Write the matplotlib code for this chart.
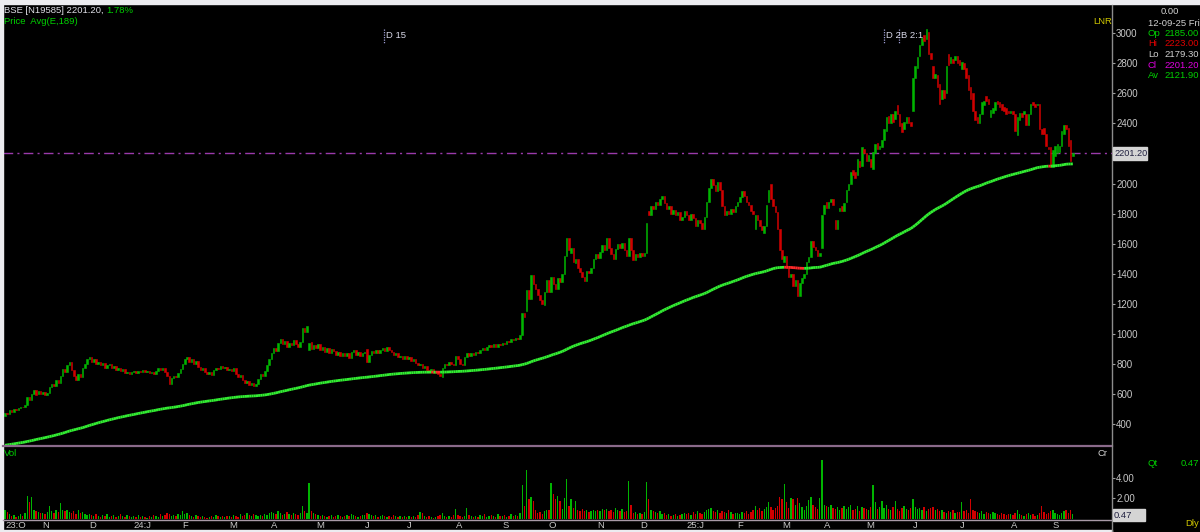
import matplotlib
matplotlib.use("Agg")
import matplotlib.pyplot as plt
import numpy as np
from matplotlib.collections import LineCollection
from matplotlib.lines import Line2D
from matplotlib.patches import Rectangle

# ---------------- data (daily candles, grouped by month) ----------------
month_labels = ["23:O", "N", "D", "24:J", "F", "M", "A", "M", "J", "J", "A", "S",
                "O", "N", "D", "25:J", "F", "M", "A", "M", "J", "J", "A", "S"]

opens = [
    [455, 475, 468, 490, 482, 500, 495, 506, 515, 510, 525, 580, 560, 600, 625, 600, 620],
    [598, 612, 590, 605, 645, 665, 650, 690, 675, 720, 765, 745, 790, 810, 760, 720, 690, 735, 710, 770, 800],
    [830, 848, 815, 830, 800, 812, 790, 805, 770, 790, 800, 775, 785, 760, 770, 750, 765, 740, 748, 735],
    [745, 752, 740, 755, 748, 760, 745, 752, 738, 745, 735, 755, 770, 760, 772, 745, 720, 668, 705, 720, 712, 740],
    [765, 800, 830, 845, 812, 835, 800, 820, 778, 760, 772, 748, 735, 745, 725, 760, 775, 765, 785, 770, 778],
    [760, 768, 750, 770, 735, 710, 725, 690, 670, 685, 660, 672, 650, 668, 700, 730, 720, 755, 790],
    [830, 870, 905, 885, 940, 965, 930, 950, 915, 940, 925, 960, 935, 910, 945, 1040, 1010, 890, 945, 900],
    [925, 905, 930, 895, 915, 880, 905, 875, 900, 885, 860, 880, 855, 875, 850, 870, 840, 880, 895, 860, 880, 850],
    [870, 900, 815, 860, 885, 870, 890, 875, 895, 905, 885, 910, 895, 880, 860, 870, 845, 855, 835],
    [850, 835, 845, 820, 830, 808, 790, 800, 775, 785, 760, 748, 765, 742, 755, 730, 715, 770, 800, 790, 815, 800],
    [790, 855, 830, 800, 790, 845, 870, 855, 875, 860, 880, 870, 895, 905, 890, 910, 925, 910, 930, 915, 935],
    [925, 940, 930, 955, 945, 965, 960, 975, 968, 990, 1140, 1150, 1290, 1230, 1390, 1330, 1300, 1260, 1225, 1195, 1275],
    [1360, 1280, 1380, 1330, 1300, 1370, 1345, 1400, 1520, 1640, 1540, 1570, 1470, 1500, 1440, 1410, 1380, 1350, 1420, 1405, 1440, 1500],
    [1530, 1505, 1545, 1590, 1560, 1640, 1570, 1530, 1500, 1565, 1600, 1570, 1605, 1560, 1520, 1640, 1560, 1490, 1530],
    [1510, 1535, 1520, 1540, 1820, 1790, 1850, 1830, 1880, 1860, 1900, 1920, 1870, 1830, 1850, 1800, 1825, 1790, 1810, 1760, 1780],
    [1820, 1790, 1760, 1800, 1770, 1720, 1760, 1740, 1700, 1780, 1880, 1970, 2030, 1990, 1950, 2010, 1960, 1850, 1790, 1820, 1800, 1830, 1810],
    [1850, 1880, 1910, 1950, 1920, 1880, 1860, 1820, 1700, 1790, 1760, 1720, 1670, 1720, 1880, 2000, 1900, 1850, 1810, 1700],
    [1560, 1480, 1520, 1440, 1380, 1400, 1320, 1360, 1250, 1340, 1370, 1400, 1480, 1510, 1620, 1580, 1560, 1520, 1570],
    [1800, 1880, 1840, 1880, 1900, 1760, 1700, 1820, 1850, 1820, 1880, 1960, 2000, 2090, 2080, 2060, 2150, 2120, 2230],
    [2200, 2150, 2160, 2100, 2200, 2270, 2230, 2240, 2290, 2350, 2450, 2400, 2460, 2430, 2520, 2460, 2400, 2360, 2400, 2440, 2410],
    [2480, 2700, 2770, 2850, 2920, 2990, 2960, 3010, 2870, 2780, 2700, 2720, 2660, 2560, 2620, 2600, 2860, 2800, 2830, 2820, 2850],
    [2820, 2760, 2800, 2770, 2720, 2640, 2600, 2480, 2440, 2400, 2460, 2520, 2580, 2560, 2440, 2470, 2490, 2550, 2540, 2530, 2510, 2500, 2480],
    [2470, 2480, 2460, 2320, 2420, 2470, 2460, 2460, 2390, 2460, 2540, 2530, 2520, 2530, 2360, 2370, 2330, 2240, 2240],
    [2110, 2180, 2200, 2210, 2250, 2330, 2390, 2370, 2290, 2185],
]

closes = [
    [475, 468, 490, 482, 500, 495, 506, 515, 510, 525, 580, 560, 600, 625, 595, 620, 598],
    [612, 590, 605, 645, 665, 650, 690, 675, 720, 765, 745, 790, 810, 760, 720, 690, 735, 710, 770, 800, 830],
    [848, 815, 830, 800, 812, 790, 805, 770, 790, 800, 775, 785, 760, 770, 750, 765, 740, 748, 735, 745],
    [752, 740, 755, 748, 760, 745, 752, 738, 745, 735, 755, 770, 760, 772, 745, 720, 668, 705, 720, 712, 740, 765],
    [800, 830, 845, 812, 835, 800, 820, 778, 760, 772, 748, 735, 745, 725, 760, 775, 765, 785, 770, 778, 760],
    [768, 750, 770, 735, 710, 725, 690, 670, 685, 660, 672, 650, 668, 700, 730, 720, 755, 790, 830],
    [870, 905, 885, 940, 965, 930, 950, 915, 940, 925, 960, 935, 910, 945, 1040, 1010, 1055, 940, 900, 925],
    [905, 930, 895, 915, 880, 905, 875, 900, 885, 860, 880, 855, 875, 850, 870, 840, 880, 895, 860, 880, 850, 870],
    [880, 810, 860, 885, 870, 890, 875, 895, 905, 885, 910, 895, 880, 860, 870, 845, 855, 835, 850],
    [835, 845, 820, 830, 808, 790, 800, 775, 785, 760, 748, 765, 742, 755, 730, 720, 770, 800, 790, 815, 800, 790],
    [855, 830, 800, 790, 845, 870, 855, 875, 860, 880, 870, 895, 905, 890, 910, 925, 910, 930, 915, 935, 925],
    [940, 930, 955, 945, 965, 960, 975, 968, 990, 1140, 1110, 1290, 1230, 1390, 1330, 1300, 1260, 1225, 1200, 1275, 1360],
    [1280, 1380, 1330, 1300, 1370, 1345, 1400, 1520, 1640, 1560, 1570, 1480, 1500, 1440, 1410, 1380, 1350, 1420, 1405, 1440, 1500, 1530],
    [1505, 1545, 1590, 1555, 1640, 1570, 1530, 1500, 1565, 1600, 1570, 1605, 1560, 1520, 1640, 1560, 1490, 1530, 1510],
    [1535, 1520, 1540, 1740, 1790, 1850, 1830, 1880, 1860, 1900, 1920, 1870, 1830, 1850, 1800, 1825, 1790, 1810, 1760, 1780, 1820],
    [1790, 1760, 1800, 1770, 1720, 1760, 1740, 1700, 1780, 1880, 1970, 2030, 1990, 1950, 2010, 1960, 1850, 1790, 1820, 1800, 1830, 1810, 1850],
    [1880, 1910, 1950, 1920, 1880, 1860, 1820, 1800, 1790, 1760, 1720, 1690, 1720, 1860, 1960, 1900, 1850, 1810, 1700, 1560],
    [1500, 1520, 1440, 1380, 1400, 1320, 1360, 1250, 1340, 1370, 1400, 1480, 1510, 1620, 1580, 1560, 1520, 1540, 1790],
    [1860, 1840, 1880, 1900, 1860, 1700, 1760, 1840, 1820, 1870, 1960, 2000, 2080, 2060, 2040, 2160, 2110, 2240, 2200],
    [2150, 2190, 2110, 2210, 2260, 2230, 2250, 2290, 2360, 2440, 2400, 2460, 2410, 2480, 2460, 2380, 2340, 2410, 2440, 2400, 2380],
    [2700, 2780, 2840, 2920, 2970, 2950, 3030, 2860, 2830, 2700, 2730, 2640, 2530, 2620, 2570, 2780, 2790, 2840, 2800, 2850, 2800],
    [2790, 2810, 2760, 2700, 2620, 2560, 2480, 2420, 2400, 2460, 2540, 2550, 2550, 2530, 2490, 2500, 2540, 2530, 2510, 2490, 2480, 2460, 2470],
    [2480, 2460, 2350, 2440, 2470, 2440, 2480, 2390, 2460, 2530, 2520, 2510, 2530, 2360, 2330, 2330, 2250, 2230, 2110],
    [2220, 2250, 2260, 2250, 2350, 2390, 2360, 2250, 2150, 2201.2],
]

volumes = [
    [0.9, 0.7, 0.5, 0.3, 0.4, 0.2, 0.3, 0.5, 0.3, 0.6, 2.2, 1.6, 2.1, 0.9, 0.8, 0.7, 0.6],
    [0.6, 0.5, 0.7, 1.3, 0.8, 0.6, 0.9, 0.7, 1.5, 0.9, 0.8, 0.9, 0.7, 0.6, 0.8, 0.5, 0.9, 0.6, 0.7, 0.5, 0.4],
    [0.5, 0.4, 0.3, 0.5, 0.3, 0.2, 0.4, 0.3, 0.5, 0.2, 0.3, 0.4, 0.2, 0.3, 0.5, 0.3, 0.2, 0.4, 0.3, 0.2],
    [0.3, 0.2, 0.4, 0.2, 0.3, 0.2, 0.1, 0.3, 0.2, 0.4, 0.3, 0.2, 0.5, 0.3, 0.4, 0.6, 0.5, 0.3, 0.4, 0.3, 0.5, 0.4],
    [0.8, 0.5, 0.6, 0.4, 0.3, 0.2, 0.4, 0.3, 0.2, 0.3, 0.2, 0.1, 0.2, 0.3, 0.2, 0.4, 0.3, 0.2, 0.3, 0.2, 0.3],
    [0.3, 0.2, 0.4, 0.3, 0.2, 0.5, 0.3, 0.4, 0.6, 0.4, 0.3, 0.5, 0.4, 0.3, 0.4, 0.3, 0.5, 0.4, 0.6],
    [0.7, 0.6, 0.5, 0.8, 0.6, 0.4, 0.5, 0.7, 0.5, 0.4, 0.6, 0.5, 0.4, 0.6, 1.3, 0.8, 0.6, 3.5, 0.8, 0.6],
    [0.5, 0.4, 0.3, 0.4, 0.3, 0.2, 0.3, 0.4, 0.2, 0.3, 0.4, 0.3, 0.2, 0.3, 0.4, 0.3, 0.5, 0.4, 0.3, 0.2, 0.3, 0.4],
    [0.4, 0.6, 0.5, 0.4, 0.3, 0.4, 0.2, 0.3, 0.4, 0.3, 0.2, 0.3, 0.2, 0.4, 0.3, 0.2, 0.3, 0.2, 0.3],
    [0.2, 0.3, 0.2, 0.3, 0.2, 0.4, 0.7, 0.6, 0.3, 0.2, 0.3, 0.2, 0.1, 0.2, 0.3, 0.4, 0.6, 0.3, 0.2, 0.3, 0.2, 0.4],
    [1.0, 0.4, 0.3, 0.2, 0.3, 1.1, 0.4, 0.3, 0.2, 0.3, 0.2, 0.4, 0.3, 0.5, 0.2, 0.3, 0.4, 0.3, 0.2, 0.5, 0.3],
    [0.3, 0.4, 0.2, 0.3, 0.5, 0.3, 0.4, 0.3, 0.6, 3.3, 1.3, 4.7, 1.9, 2.1, 1.7, 0.9, 0.6, 0.7, 0.5, 0.8, 0.9],
    [0.9, 3.5, 2.4, 1.9, 2.2, 1.7, 1.0, 2.0, 3.9, 1.3, 1.9, 1.1, 1.7, 0.9, 0.8, 1.0, 0.8, 0.9, 0.7, 0.8, 0.9, 0.8],
    [0.9, 0.8, 1.0, 0.9, 1.0, 0.8, 0.9, 0.7, 1.1, 0.9, 0.8, 1.0, 0.7, 0.8, 3.7, 1.4, 0.6, 0.7, 0.5],
    [0.6, 0.5, 0.7, 3.6, 1.9, 0.9, 0.8, 0.7, 0.6, 0.8, 0.5, 0.6, 0.4, 0.5, 0.3, 0.4, 0.5, 0.3, 0.4, 0.5, 0.6],
    [0.5, 0.6, 0.4, 0.7, 0.5, 0.8, 0.6, 0.5, 0.7, 0.9, 1.0, 1.1, 0.8, 0.7, 0.9, 0.6, 0.8, 0.7, 0.6, 0.9, 0.7, 0.5, 0.6],
    [0.6, 0.5, 0.7, 0.6, 0.8, 0.5, 0.7, 0.9, 1.3, 0.9, 1.1, 0.8, 1.0, 1.2, 1.6, 1.2, 0.9, 1.1, 1.3, 2.1],
    [1.9, 3.4, 1.6, 1.1, 2.0, 1.9, 1.4, 2.0, 1.5, 1.2, 0.9, 1.3, 1.8, 2.1, 1.4, 1.2, 1.0, 2.0, 5.7],
    [1.4, 1.3, 1.2, 1.4, 1.1, 1.0, 1.2, 0.9, 1.1, 1.3, 1.0, 1.2, 1.4, 0.9, 1.0, 1.3, 0.8, 1.2, 1.1],
    [1.0, 0.9, 1.2, 3.3, 1.6, 1.0, 1.2, 1.7, 1.1, 1.4, 1.0, 0.9, 1.2, 1.7, 1.0, 0.8, 1.1, 1.3, 1.0, 0.9, 1.1],
    [1.9, 1.2, 1.0, 1.1, 0.9, 1.2, 0.8, 1.0, 1.1, 1.2, 0.9, 1.0, 0.8, 0.9, 0.7, 0.6, 0.8, 0.7, 0.9, 0.6, 0.7],
    [0.7, 1.6, 0.8, 0.9, 0.6, 1.9, 0.9, 0.8, 0.7, 0.6, 0.8, 0.5, 0.7, 0.6, 0.5, 0.7, 0.6, 0.5, 0.4, 0.6, 0.5, 0.4, 0.5],
    [0.5, 0.4, 0.6, 0.9, 0.5, 0.4, 0.3, 0.5, 0.6, 0.4, 0.5, 0.3, 0.4, 0.6, 1.3, 0.7, 0.5, 0.6, 0.8],
    [0.9, 0.6, 0.5, 0.4, 0.6, 0.8, 0.9, 0.6, 0.9, 0.47],
]

ema_start = 256.0      # average value at the first visible bar
ema_period = 189
last_close = 2201.20
price_ticks = [400, 600, 800, 1000, 1200, 1400, 1600, 1800, 2000, 2200, 2400, 2600, 2800, 3000]
price_tick_labels = ["400", "600", "800", "1000", "1200", "1400", "1600", "1800", "2000", "", "2400", "2600", "2800", "3000"]
vol_ticks = [2.0, 4.0]
vol_tick_labels = ["2.00", "4.00"]
info_rows = [("Op", "2185.00", "#00d000"), ("Hi", "2223.00", "#e00000"),
             ("Lo", "2179.30", "#d0d0d0"), ("Cl", "2201.20", "#e000e0"),
             ("Av", "2121.90", "#00d000")]

# ---------------- flatten ----------------
o = np.concatenate([np.array(m, float) for m in opens])
c = np.concatenate([np.array(m, float) for m in closes])
v = np.concatenate([np.array(m, float) for m in volumes])
n = min(len(o), len(c), len(v))
o, c, v = o[:n], c[:n], v[:n]
idx = np.arange(n)
counts = [len(m) for m in closes]
month_start = np.concatenate([[0], np.cumsum(counts)[:-1]])

alpha = 2.0 / (ema_period + 1)
ema = np.empty(n)
prev = ema_start
for i in range(n):
    prev = prev + alpha * (c[i] - prev)
    ema[i] = prev

# ---------------- layout helpers ----------------
W, H = 1200, 532
X0, DX = 5.0, 2.22          # pixel of bar 0, pixel spacing
def fx(px): return px / W
def fy(py): return 1 - py / H
def xi(px): return (px - X0) / DX

FONT = "Liberation Sans"
plt.rcParams["font.family"] = [FONT, "DejaVu Sans"]
FS = 6.8

fig = plt.figure(figsize=(12, 5.32), dpi=100, facecolor="black")

# light frame strips
fig.patches.append(Rectangle((0, fy(4)), 1, 4 / H, transform=fig.transFigure, color="#ececf0", zorder=0))
fig.patches.append(Rectangle((0, 0), 2.5 / W, 1, transform=fig.transFigure, color="#ececf0", zorder=0))
fig.patches.append(Rectangle((0, 0), 1112 / W, 2.5 / H, transform=fig.transFigure, color="#ececf0", zorder=0))

L, R = 3, 1112
GREEN, RED = "#00b400", "#d00000"
cols = np.where(c >= o, GREEN, RED)

# ---------------- price panel ----------------
ax = fig.add_axes([fx(L), fy(446), fx(R) - fx(L), fy(5) - fy(446)])
ax.set_facecolor("black")
for s in ax.spines.values():
    s.set_visible(False)
ax.set_xlim(xi(L), xi(R))
ax.set_ylim(253.5, 3188)
ax.bar(idx, np.abs(c - o), bottom=np.minimum(o, c), width=0.7, color=cols,
       edgecolor=cols, linewidth=0.4, zorder=3)

pts = np.column_stack([idx, ema])
segs = np.stack([pts[:-1], pts[1:]], axis=1)
seg_cols = np.where(c[1:] < ema[1:], "#ff2a2a", "#33ee33")
ax.add_collection(LineCollection(segs, colors=seg_cols, linewidths=2.0, zorder=4))

ax.axhline(last_close, color="#9a3aaa", lw=1.0, ls=(0, (7, 3, 1.5, 3)), zorder=2)

ax.set_xticks([])
ax.yaxis.tick_right()
ax.set_yticks(price_ticks)
ax.set_yticklabels(price_tick_labels)
ax.tick_params(axis="y", direction="out", length=2.5, width=0.8, color="#a0a0a0",
               labelcolor="#c8c8c8", labelsize=7.0, pad=0.5)

# ---------------- volume panel ----------------
axv = fig.add_axes([fx(L), fy(519), fx(R) - fx(L), fy(447) - fy(519)])
axv.set_facecolor("black")
for s in axv.spines.values():
    s.set_visible(False)
axv.set_xlim(xi(L), xi(R))
axv.set_ylim(0, 6.96)
axv.bar(idx, v, width=0.6, color=cols, linewidth=0, zorder=3)
axv.set_xticks([])
axv.yaxis.tick_right()
axv.set_yticks(vol_ticks)
axv.set_yticklabels(vol_tick_labels)
axv.tick_params(axis="y", direction="out", length=2.5, width=0.8, color="#a0a0a0",
                labelcolor="#c8c8c8", labelsize=7.0, pad=0.5)

# ---------------- separators ----------------
def hline(y, x1, x2, color, lw):
    fig.add_artist(Line2D([fx(x1), fx(x2)], [fy(y), fy(y)], transform=fig.transFigure, color=color, lw=lw))
def vline(x, y1, y2, color, lw, ls="-"):
    fig.add_artist(Line2D([fx(x), fx(x)], [fy(y1), fy(y2)], transform=fig.transFigure, color=color, lw=lw, ls=ls))

hline(446, L, R, "#8a6a8a", 1.6)
hline(519.5, L, R, "#a89aa8", 1.0)
vline(R, 5, 532, "#8c8c8c", 1.0)

# ---------------- texts ----------------
def T(x, y, s, color, ha="left", size=FS, **kw):
    fig.text(fx(x), fy(y), s, color=color, ha=ha, va="center", fontsize=size, family=[FONT, "DejaVu Sans"], **kw)

T(4, 10.5, "BSE [N19585] 2201.20,", "#e0e0e8")
T(106, 10.5, "1.78%", "#00d000")
T(4, 21, "Price  Avg(E,189)", "#00d000")
T(1093, 21, "LNR", "#d0c800")

T(1170, 12, "0.00", "#d0d0d0", ha="center")
T(1148, 23, "12-09-25 Fri", "#d0d0d0")
for k, (lab, val, colr) in enumerate(info_rows):
    yy = 33.5 + k * 10.5
    T(1148, yy, lab, colr)
    T(1199, yy, val, colr, ha="right")

# current price tag
fig.patches.append(Rectangle((fx(1113), fy(160)), 34 / W, 13 / H, transform=fig.transFigure,
                             color="#d4d4d4", zorder=5))
T(1114, 153.5, "2201.20", "#202040", size=6.6, zorder=6)

# event markers
for mx in (384, 884, 899):
    vline(mx, 29, 43, "#9a9ad0", 0.9, ls=(0, (1, 1)))
T(386, 36, "D 15", "#d8d8e8")
T(886, 36, "D 2", "#d8d8e8")
T(901, 36, "B 2:1", "#d8d8e8")

# volume panel texts
T(4, 454, "Vol", "#00d000")
T(1097, 453, "Cr", "#d0d0d0")
T(1148, 464, "Qt", "#00d000")
T(1199, 464, "0.47", "#00d000", ha="right")
fig.patches.append(Rectangle((fx(1113), fy(521)), 32 / W, 12 / H, transform=fig.transFigure,
                             color="#d4d4d4", zorder=5))
T(1114, 515, "0.47", "#202040", zorder=6)
T(1185, 524, "Dly", "#d0c800")

# month labels
for k, lab in enumerate(month_labels):
    px = X0 + month_start[k] * DX
    if k == 0:
        px = 5
    T(px, 525, lab, "#c8c8c8")

fig.savefig("out.png", dpi=100, facecolor="black")
